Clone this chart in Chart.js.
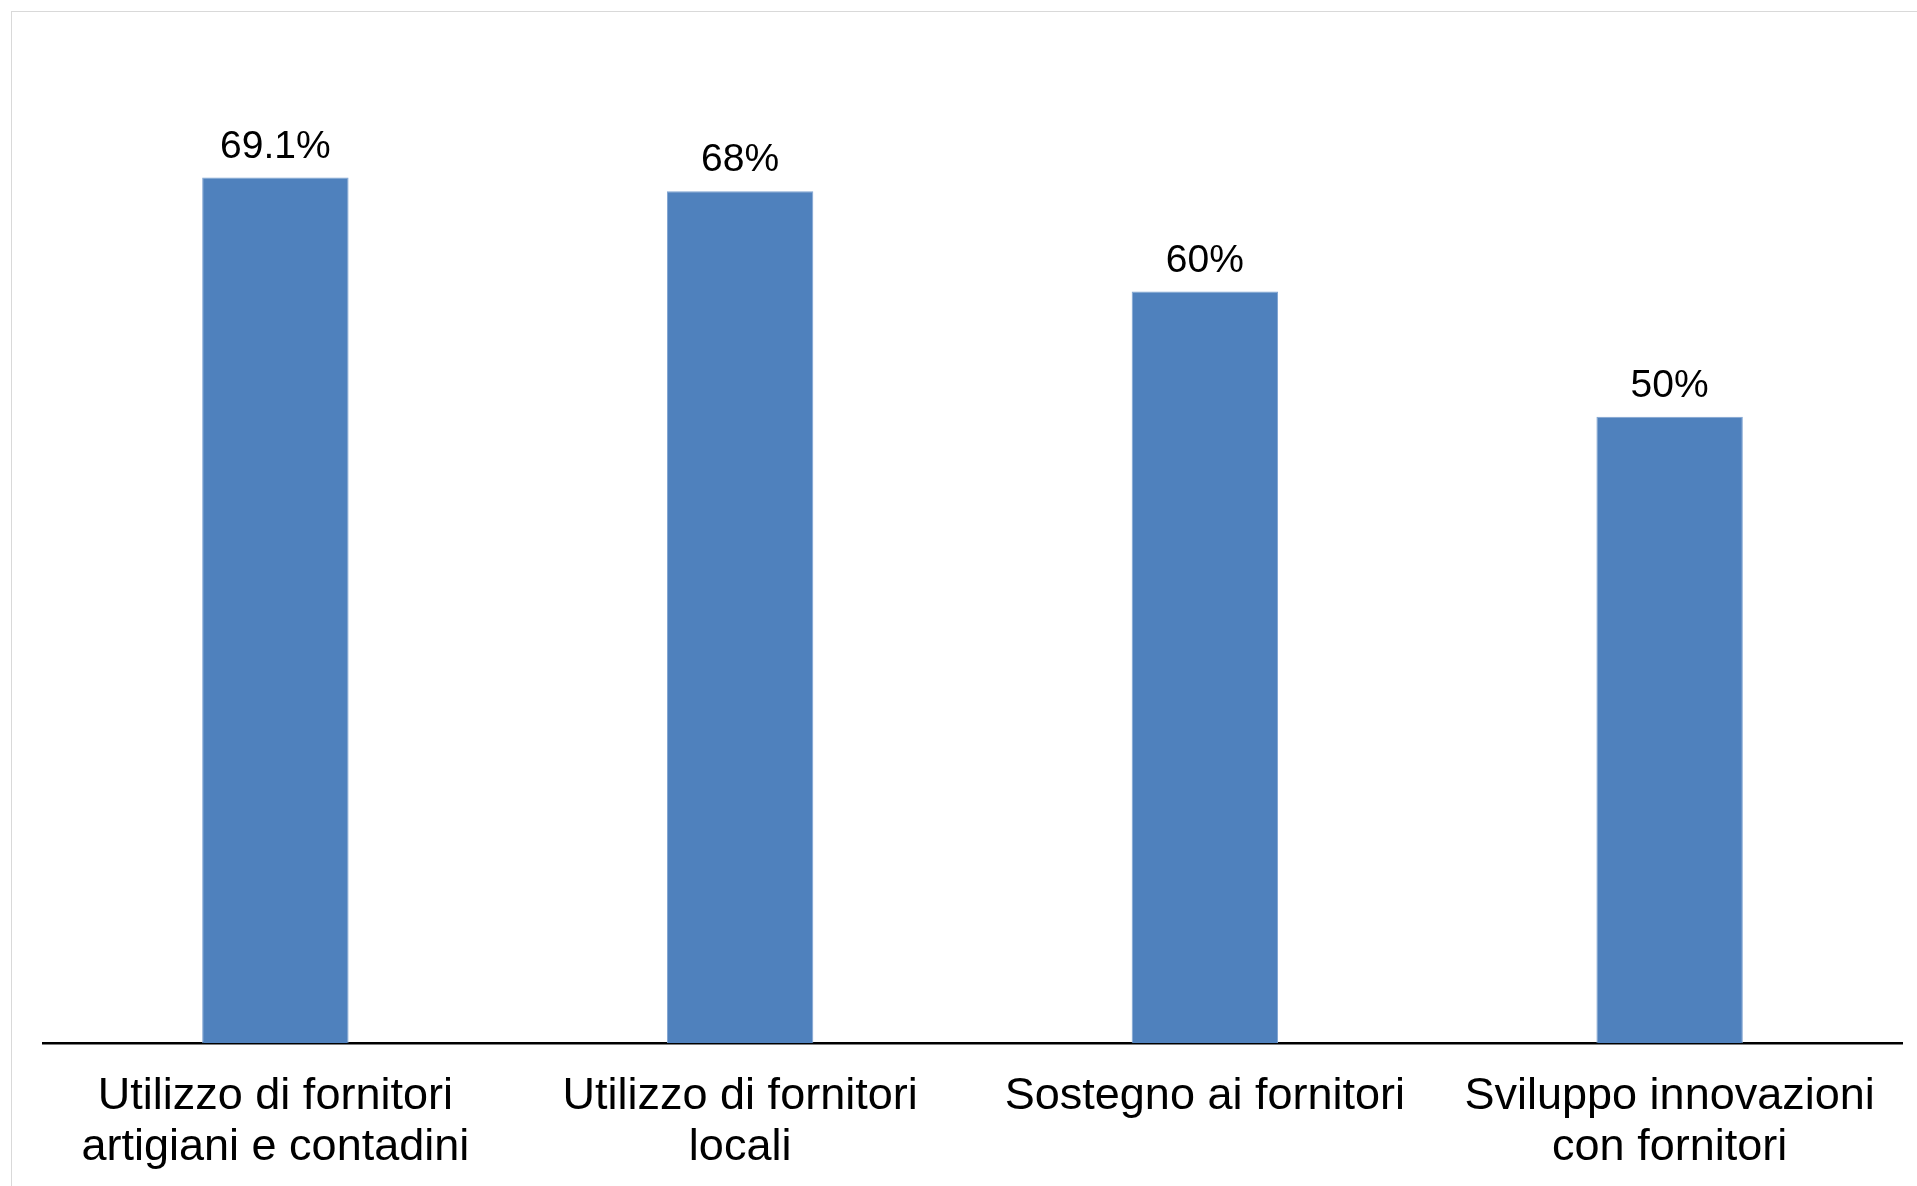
<!DOCTYPE html>
<html>
<head>
<meta charset="utf-8">
<script src="https://cdn.jsdelivr.net/npm/chart.js@4/dist/chart.umd.min.js"></script>
<style>
  html, body { margin: 0; padding: 0; background: #fff; }
  #frame { position: absolute; left: 11px; top: 11px; right: 0; bottom: 0;
           border-top: 1px solid #d9d9d9; border-left: 1px solid #d9d9d9; }
  #wrap { position: absolute; left: 0; top: 0; width: 1917px; height: 1186px; }
</style>
</head>
<body>
<div id="frame"></div>
<div id="wrap"><canvas id="chart"></canvas></div>
<script>
// categorie e valori (%)
const categories = [
  ['Utilizzo di fornitori', 'artigiani e contadini'],
  ['Utilizzo di fornitori', 'locali'],
  'Sostegno ai fornitori',
  ['Sviluppo innovazioni', 'con fornitori']
];
const values = [69.1, 68, 60, 50];

const FONT = '"Liberation Sans", Arial, Helvetica, sans-serif';

// etichette sopra le barre
const valueLabels = {
  id: 'valueLabels',
  afterDatasetsDraw(chart) {
    const ctx = chart.ctx;
    const meta = chart.getDatasetMeta(0);
    ctx.save();
    ctx.font = '39px ' + FONT;
    ctx.fillStyle = '#000';
    ctx.textAlign = 'center';
    ctx.textBaseline = 'alphabetic';
    meta.data.forEach((bar, i) => {
      ctx.fillText(values[i] + '%', bar.x, bar.y - 20);
    });
    ctx.restore();
  }
};

new Chart(document.getElementById('chart').getContext('2d'), {
  type: 'bar',
  data: {
    labels: categories,
    datasets: [{
      data: values,
      backgroundColor: '#4f81bd',
      borderColor: '#7fa3d1',
      borderWidth: 1,
      categoryPercentage: 1,
      barPercentage: 0.315
    }]
  },
  options: {
    responsive: true,
    maintainAspectRatio: false,
    animation: false,
    layout: { padding: { left: 43, right: 15, top: 41, bottom: 0 } },
    plugins: { legend: { display: false }, tooltip: { enabled: false } },
    scales: {
      x: {
        afterFit(scale) { scale.height = 143; },
        grid: { display: false, drawTicks: false },
        border: { display: true, color: '#000', width: 2.5 },
        ticks: {
          color: '#000',
          padding: 28,
          maxRotation: 0,
          autoSkip: false,
          font: { family: FONT, size: 45, lineHeight: 1.13 }
        }
      },
      y: {
        display: false,
        min: 0,
        max: 80
      }
    }
  },
  plugins: [valueLabels]
});
</script>
</body>
</html>
